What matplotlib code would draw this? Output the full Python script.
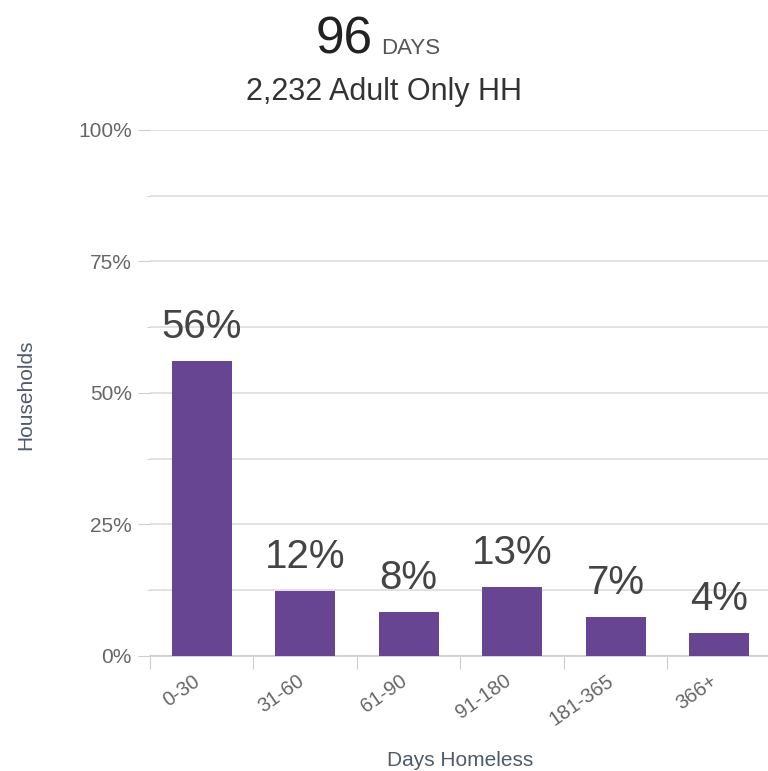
import numpy as np
import matplotlib.pyplot as plt
import matplotlib.transforms as mtransforms
from matplotlib.ticker import MultipleLocator, PercentFormatter

# Chart data
categories = ['0-30', '31-60', '61-90', '91-180', '181-365', '366+']
shares = [56.1, 12.4, 8.4, 13.1, 7.4, 4.4]
bar_labels = ['56%', '12%', '8%', '13%', '7%', '4%']
yticks = [0, 25, 50, 75, 100]

plt.rcParams['font.family'] = ['Liberation Sans', 'DejaVu Sans']

bar_color = '#674593'
tick_color = '#666666'
axis_title_color = '#4d5b6a'

fig = plt.figure(figsize=(7.68, 7.71), dpi=100)
ax = fig.add_axes([0.1953, 0.1492, 0.8086, 0.6822])

x = np.arange(len(categories))
bars = ax.bar(x, shares, width=0.58, color=bar_color, zorder=3)

# value labels over each bar
for rect, lab in zip(bars, bar_labels):
    ax.annotate(lab, (rect.get_x() + rect.get_width() / 2, rect.get_height()),
                xytext=(0, 16.5), textcoords='offset points',
                ha='center', va='baseline', fontsize=29, color='#444444')

ax.set_xlim(-0.5, 5.5)
ax.set_ylim(0, 100)

# grid every 12.5%, labels every 25%
ax.set_yticks(yticks)
ax.yaxis.set_minor_locator(MultipleLocator(12.5))
ax.yaxis.set_major_formatter(PercentFormatter(decimals=0))
ax.grid(axis='y', which='both', color='#dcdcdc', linewidth=1.2, zorder=0)
ax.tick_params(axis='y', which='major', length=9, color='#cccccc',
               labelsize=15, labelcolor=tick_color, pad=4)
ax.tick_params(axis='y', which='minor', length=2, color='#cccccc')

# x ticks at category boundaries, labels at centers
ax.set_xticks(np.arange(-0.5, 5.5, 1.0))
ax.set_xticklabels([])
ax.set_xticks(x, minor=True)
ax.set_xticklabels(categories, minor=True, rotation=35, ha='right',
                   rotation_mode='anchor', fontsize=14.5, color=tick_color)
ax.tick_params(axis='x', which='major', length=9, color='#cccccc', direction='out')
ax.tick_params(axis='x', which='minor', length=0, pad=11)
shift = mtransforms.ScaledTranslation(-0.09, 0, fig.dpi_scale_trans)
for lbl in ax.get_xticklabels(minor=True):
    lbl.set_transform(lbl.get_transform() + shift)

for side in ['left', 'right', 'top']:
    ax.spines[side].set_visible(False)
ax.spines['bottom'].set_color('#cccccc')
ax.spines['bottom'].set_linewidth(1.2)

ax.set_xlabel('Days Homeless', fontsize=15, color=axis_title_color, labelpad=16)
fig.text(0.033, 0.488, 'Households', rotation=90, ha='center', va='center',
         fontsize=15, color=axis_title_color)

# title block
fig.text(0.486, 0.930, '96', ha='right', va='baseline', fontsize=37, color='#222222')
fig.text(0.496, 0.930, 'DAYS', ha='left', va='baseline', fontsize=16, color='#555555')
fig.text(0.5, 0.870, '2,232 Adult Only HH', ha='center', va='baseline',
         fontsize=22, color='#333333')

fig.savefig('out.png', dpi=100)
